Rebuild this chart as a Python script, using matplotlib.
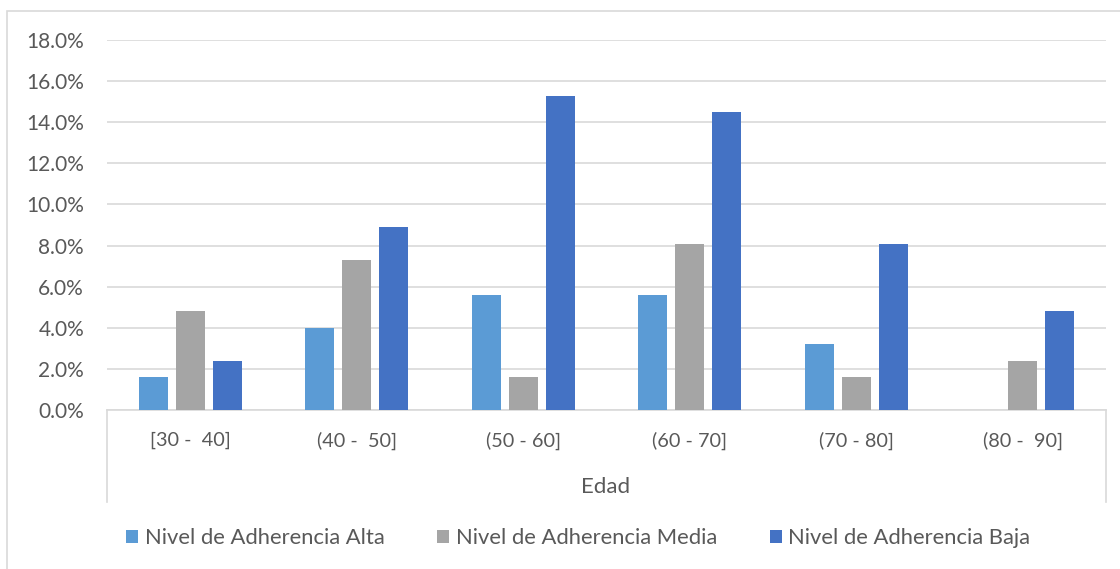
import matplotlib
matplotlib.use("Agg")
import matplotlib.pyplot as plt
from matplotlib.patches import Rectangle, Patch
import numpy as np

categories = ["[30 -  40]", "(40 -  50]", "(50 - 60]", "(60 - 70]", "(70 - 80]", "(80 -  90]"]
alta = [1.6, 4.0, 5.6, 5.6, 3.2, 0.0]
media = [4.8, 7.3, 1.6, 8.1, 1.6, 2.4]
baja = [2.4, 8.9, 15.3, 14.5, 8.1, 4.8]
series_names = ["Nivel de Adherencia Alta", "Nivel de Adherencia Media", "Nivel de Adherencia Baja"]
colors = ["#5B9BD5", "#A5A5A5", "#4472C4"]
yticks = np.arange(0, 19, 2)

W, H = 1120, 569
plt.rcParams["font.family"] = ["Lato", "DejaVu Sans"]
txt = "#595959"
grid = "#D9D9D9"

fig = plt.figure(figsize=(W / 100, H / 100), dpi=100)
fig.patches.append(Rectangle((7 / W, -0.1), 1.2, (H - 11) / H + 0.1, transform=fig.transFigure,
                             facecolor="none", edgecolor=grid, linewidth=1.2))

x0, x1, ytop, ybot = 107, 1106, 40, 410
ax = fig.add_axes([x0 / W, (H - ybot) / H, (x1 - x0) / W, (ybot - ytop) / H])

cat_px = (x1 - x0) / len(categories)
x = np.arange(len(categories))
step = 37 / cat_px
bw = 29 / cat_px
for i, (vals, name, c) in enumerate(zip([alta, media, baja], series_names, colors)):
    ax.bar(x + (i - 1) * step, vals, width=bw, color=c, label=name, zorder=3)

ax.set_xlim(-0.5, len(categories) - 0.5)
ax.set_ylim(0, 18)
ax.set_yticks(yticks)
ax.set_yticklabels([f"{v:.1f}%" for v in yticks])
ax.set_xticks(x)
ax.set_xticklabels(categories)
ax.tick_params(axis="y", length=0, pad=16.5, labelsize=15, labelcolor=txt)
ax.tick_params(axis="x", length=0, pad=15.5, labelsize=14.3, labelcolor=txt)
ax.grid(axis="y", color=grid, linewidth=1.2, zorder=0)
for s in ["top", "right", "left"]:
    ax.spines[s].set_visible(False)
ax.spines["bottom"].set_color(grid)
ax.spines["bottom"].set_linewidth(1.2)

drop = (502 - ybot) / (ybot - ytop)
for xe in (0, 1):
    ax.plot([xe, xe], [0, -drop], transform=ax.transAxes, color=grid, linewidth=1.2, clip_on=False)

fig.text(606 / W, (H - 487) / H, "Edad", ha="center", va="center", fontsize=16, color=txt)

handles = [Patch(facecolor=c, edgecolor="none") for c in colors]
fig.legend(handles, series_names, loc="center left", bbox_to_anchor=(126 / W, (H - 538) / H),
           ncol=3, frameon=False, fontsize=15.8, labelcolor=txt, handlelength=0.55, handleheight=0.55,
           handletextpad=0.3, columnspacing=2.4, borderaxespad=0, borderpad=0)

fig.savefig("out.png", dpi=100, facecolor="white")
